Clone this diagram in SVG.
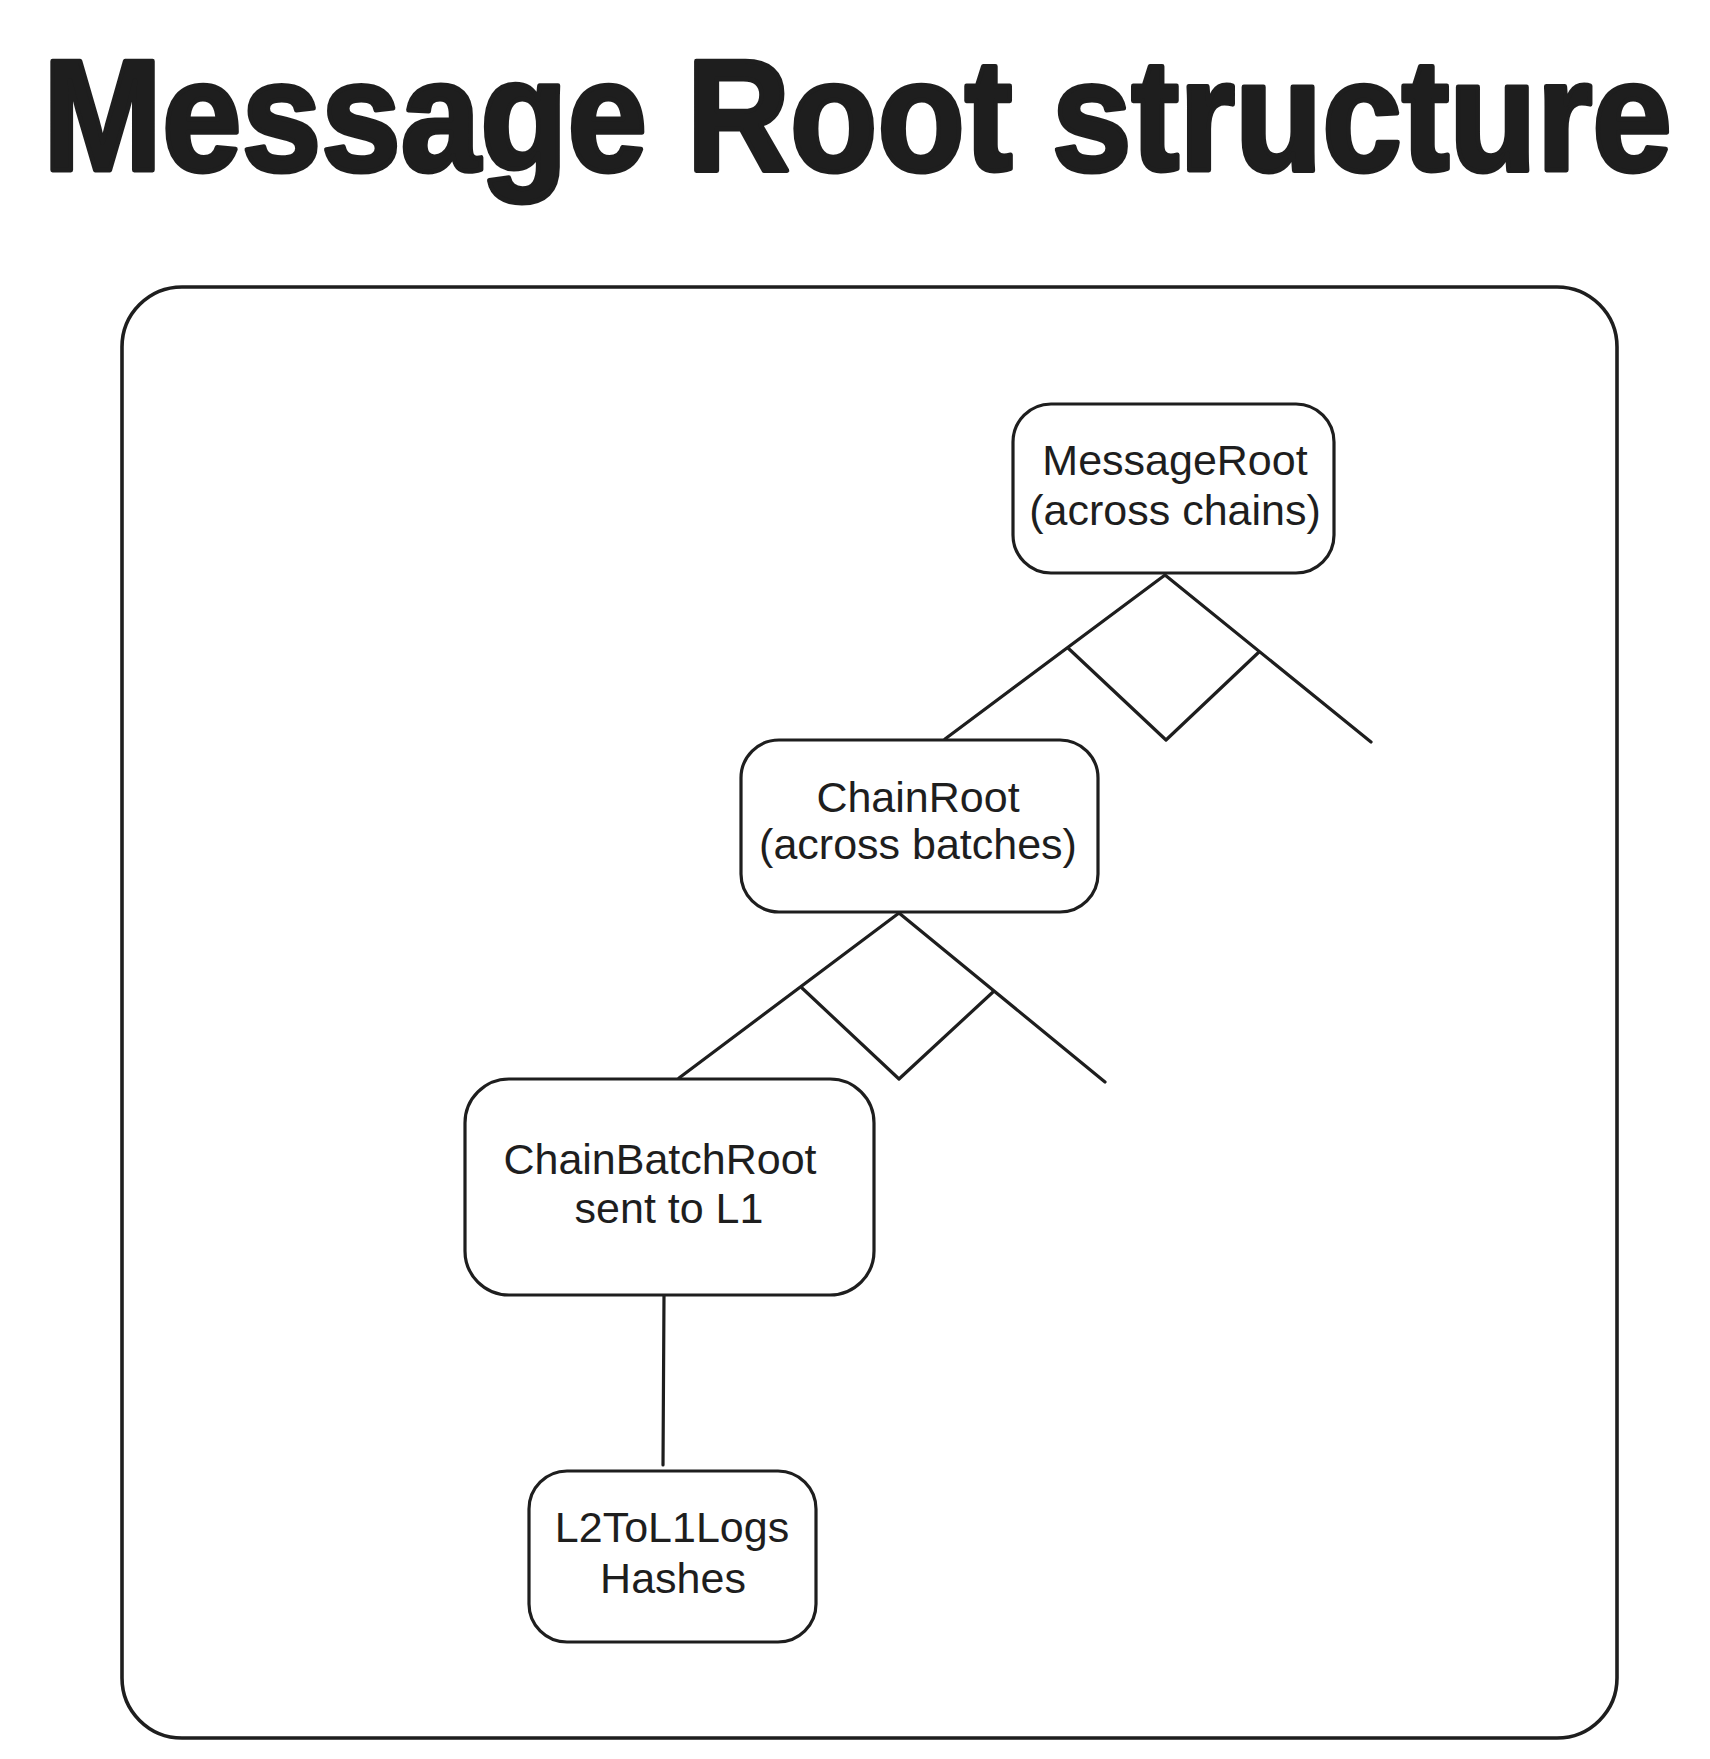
<svg xmlns="http://www.w3.org/2000/svg" width="1710" height="1759" viewBox="0 0 1710 1759">
<style>
.box{fill:#ffffff;stroke:#1e1e1e;stroke-width:3.2}
.lbl{font-family:"Liberation Sans",Arial,sans-serif;font-size:43px;fill:#1e1e1e;text-anchor:middle}
.edge{fill:none;stroke:#1e1e1e;stroke-width:3.2;stroke-linecap:round;stroke-linejoin:round}
.title{font-family:"Liberation Sans",Arial,sans-serif;font-weight:bold;font-size:143px;fill:#1e1e1e;stroke:#1e1e1e;stroke-width:4.5;stroke-linejoin:round}
</style>
<rect width="1710" height="1759" fill="#ffffff"/>
<text class="title" x="0" y="0" transform="translate(43,170) scale(1.0,1.104)">Message Root structure</text>
<g id="frame">
<rect x="122" y="287" width="1495" height="1451" rx="60" ry="60" fill="none" stroke="#1e1e1e" stroke-width="3.6"/>
</g>
<g id="connectors">
<polyline class="edge" points="945,739 1165,575 1371,742"/>
<polyline class="edge" points="1068,648 1166,740 1259,652"/>
<polyline class="edge" points="679,1078 899,913 1105,1082"/>
<polyline class="edge" points="802,988 899,1079 993,992"/>
<line class="edge" x1="664" y1="1295" x2="663" y2="1465"/>
</g>
<g id="messageRoot">
<rect class="box" x="1013" y="404" width="321" height="169" rx="38" ry="38"/>
<text class="lbl" x="1175" y="475">MessageRoot</text>
<text class="lbl" x="1175" y="525">(across chains)</text>
</g>
<g id="chainRoot">
<rect class="box" x="741" y="740" width="357" height="172" rx="38" ry="38"/>
<text class="lbl" x="918" y="812">ChainRoot</text>
<text class="lbl" x="918" y="859">(across batches)</text>
</g>
<g id="chainBatchRoot">
<rect class="box" x="465" y="1079" width="409" height="216" rx="44" ry="44"/>
<text class="lbl" x="660" y="1174">ChainBatchRoot</text>
<text class="lbl" x="669" y="1223">sent to L1</text>
</g>
<g id="l2ToL1Logs">
<rect class="box" x="529" y="1471" width="287" height="171" rx="38" ry="38"/>
<text class="lbl" x="672" y="1542">L2ToL1Logs</text>
<text class="lbl" x="673" y="1593">Hashes</text>
</g>
</svg>
